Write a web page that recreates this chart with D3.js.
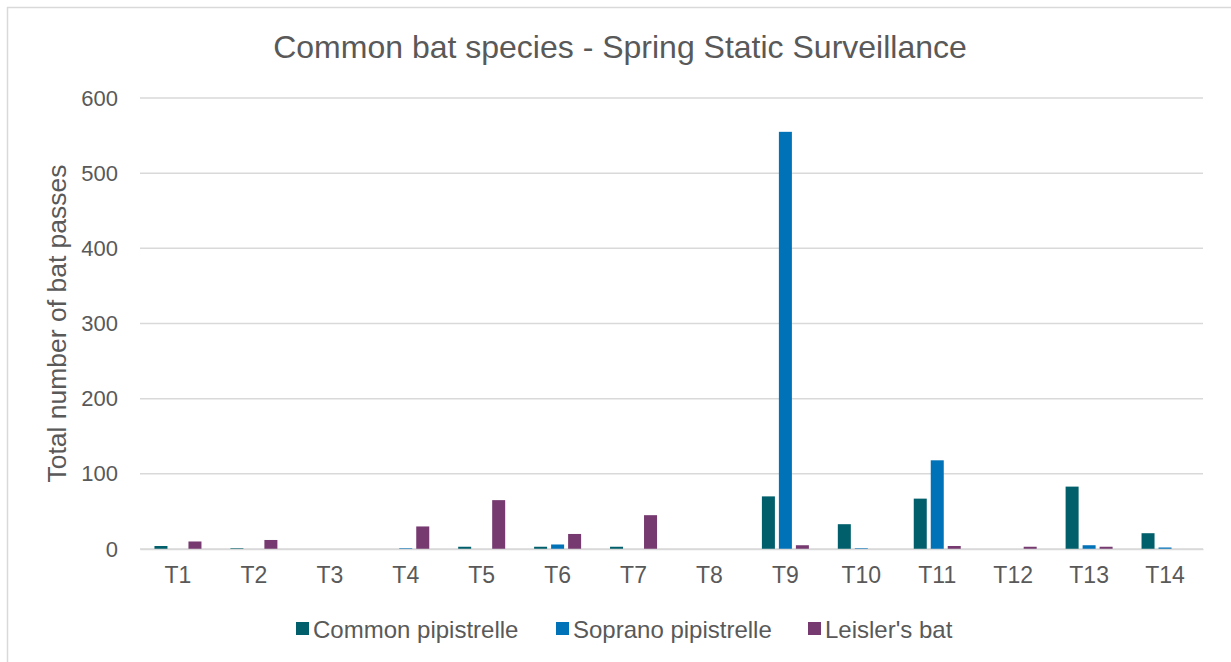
<!DOCTYPE html>
<html>
<head>
<meta charset="utf-8">
<style>
 body { margin: 0; background: #fff; }
 svg { font-family: "Liberation Sans", Arial, sans-serif; background: #fff; }
 .tick text { fill: #595959; }
</style>
</head>
<body>
<svg width="1231" height="662"></svg>
<script src="https://cdn.jsdelivr.net/npm/d3@7"></script>
<script>
// data
var sites = ["T1","T2","T3","T4","T5","T6","T7","T8","T9","T10","T11","T12","T13","T14"];
var species = ["Common pipistrelle", "Soprano pipistrelle", "Leisler's bat"];
var common  = [4, 1, 0, 0, 3, 3, 3, 0, 70, 33, 67, 0, 83, 21];
var soprano = [0, 0, 0, 1, 0, 6, 0, 0, 555, 1, 118, 0, 5, 2];
var leisler = [10, 12, 0, 30, 65, 20, 45, 0, 5, 0, 4, 3, 3, 0];
var yTicks = [0, 100, 200, 300, 400, 500, 600];
var colors = ["#005f6b", "#0072b8", "#763a70"];

var series = [common, soprano, leisler];

var svg = d3.select("svg");
var margin = {left: 140, right: 28, top: 98, bottom: 113};
var W = 1231, H = 662;

// outer chart frame (runs off the right / bottom edge like the screenshot)
svg.append("rect")
   .attr("x", 7.5).attr("y", 7.5)
   .attr("width", 1240).attr("height", 700)
   .attr("fill", "none").attr("stroke", "#d9d9d9").attr("stroke-width", 1.5);

var x0 = d3.scaleBand().domain(sites).range([margin.left, W - margin.right]);
var x1 = d3.scaleBand().domain(species).range([-23.5, 23.5]).paddingInner(0.235);
var y = d3.scaleLinear().domain([0, 600]).range([H - margin.bottom, margin.top]);

// gridlines
svg.append("g").selectAll("line").data(yTicks).enter().append("line")
   .attr("x1", margin.left).attr("x2", W - margin.right)
   .attr("y1", function(d){ return y(d); }).attr("y2", function(d){ return y(d); })
   .attr("stroke", "#d9d9d9").attr("stroke-width", 1.5);

// y axis labels
var yAxis = d3.axisLeft(y).tickValues(yTicks).tickSize(0).tickPadding(22);
var yg = svg.append("g").attr("transform", "translate(" + margin.left + ",0)").call(yAxis);
yg.select(".domain").remove();
yg.selectAll("text").style("font-size", "22px");

// bars
var g = svg.append("g");
series.forEach(function(vals, si){
  g.selectAll(".s" + si).data(vals).enter().append("rect")
   .attr("class", "s" + si)
   .attr("x", function(d, i){ return x0(sites[i]) + x0.bandwidth()/2 + x1(species[si]); })
   .attr("width", x1.bandwidth())
   .attr("y", function(d){ return y(d); })
   .attr("height", function(d){ return y(0) - y(d); })
   .attr("fill", colors[si]);
});

// x axis
var xAxis = d3.axisBottom(x0).tickSize(0).tickPadding(18);
var xg = svg.append("g").attr("transform", "translate(0," + y(0) + ")").call(xAxis);
xg.select(".domain").attr("stroke", "#d9d9d9").attr("stroke-width", 1.5);
xg.selectAll("text").style("font-size", "23px");

// title
svg.append("text")
   .attr("x", 620).attr("y", 58)
   .attr("text-anchor", "middle")
   .style("font-size", "32px").attr("fill", "#595959")
   .text("Common bat species - Spring Static Surveillance");

// y axis title
svg.append("text")
   .attr("transform", "translate(66," + ((y(0) + y(600)) / 2) + ") rotate(-90)")
   .attr("text-anchor", "middle")
   .style("font-size", "26.5px").attr("fill", "#595959")
   .text("Total number of bat passes");

// legend
var legX = [296, 556, 808];
var leg = svg.append("g");
species.forEach(function(s, i){
  leg.append("rect").attr("x", legX[i]).attr("y", 622).attr("width", 13).attr("height", 13)
     .attr("fill", colors[i]);
  leg.append("text").attr("x", legX[i] + 17).attr("y", 638)
     .style("font-size", "24px").attr("fill", "#595959").text(s);
});
</script>
</body>
</html>
